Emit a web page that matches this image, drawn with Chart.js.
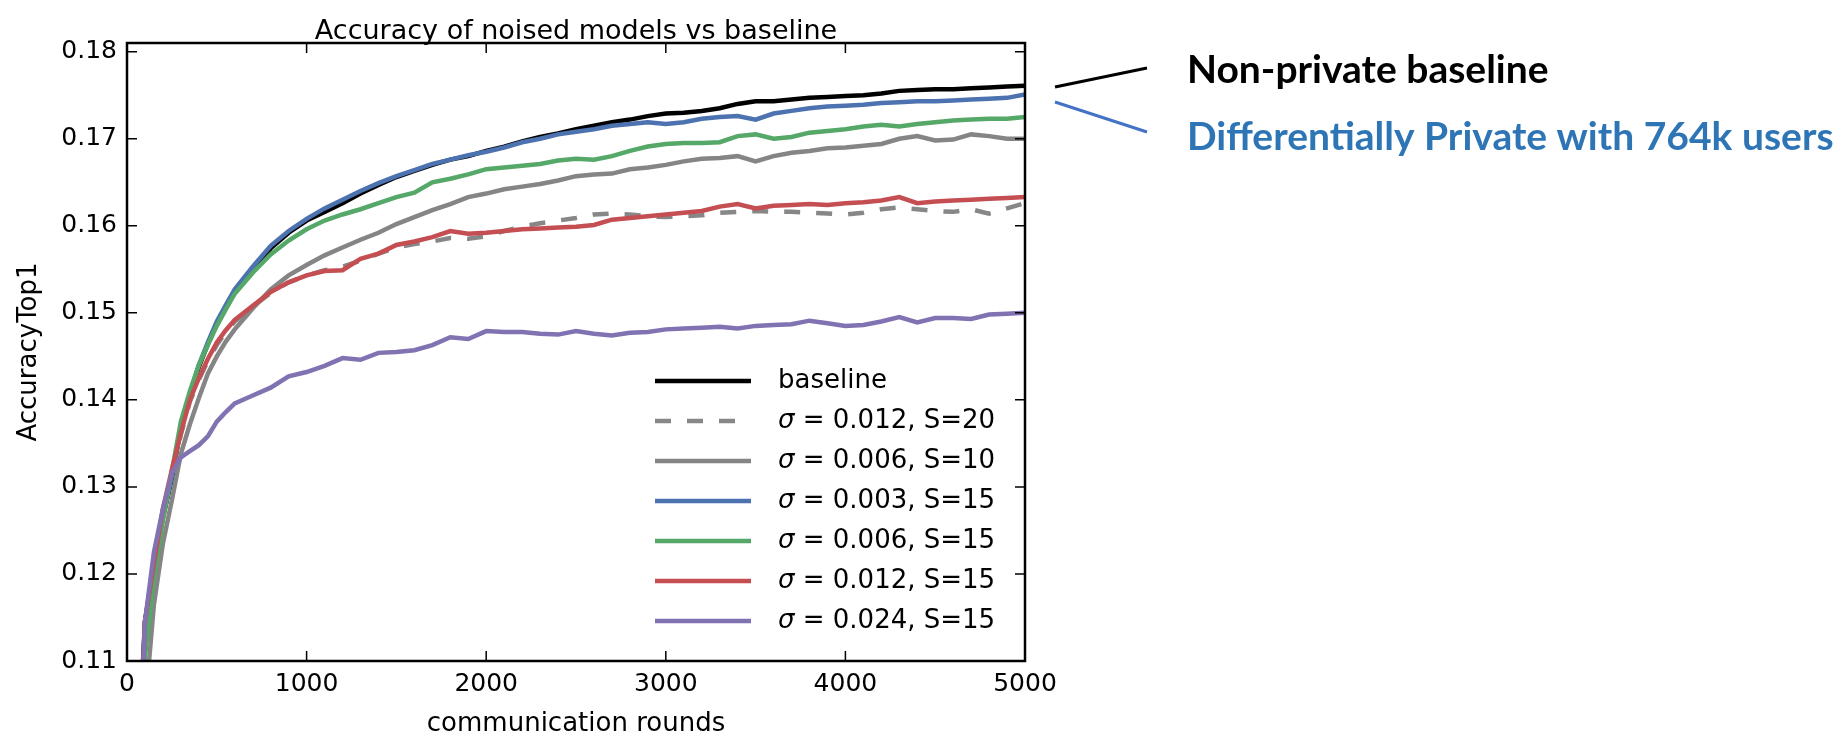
<!DOCTYPE html>
<html>
<head>
<meta charset="utf-8">
<script src="https://cdn.jsdelivr.net/npm/chart.js@4"></script>
<style>
  html, body { margin: 0; padding: 0; background: #fff; }
  #wrap { width: 1844px; height: 735px; }
</style>
</head>
<body>
<div id="wrap"><canvas id="chart" width="1844" height="735"></canvas></div>
<script>
const rounds = [75, 100, 150, 200, 250, 300, 350, 400, 450, 500, 550, 600,
  700, 800, 900, 1000, 1100, 1200, 1300, 1400, 1500, 1600, 1700, 1800, 1900, 2000,
  2100, 2200, 2300, 2400, 2500, 2600, 2700, 2800, 2900, 3000,
  3100, 3200, 3300, 3400, 3500, 3600, 3700, 3800, 3900, 4000,
  4100, 4200, 4300, 4400, 4500, 4600, 4700, 4800, 4900, 5000];

const baseline = [0.104, 0.1145, 0.121, 0.1265, 0.131, 0.1368, 0.1405, 0.1438, 0.1464, 0.1488, 0.1507, 0.1525,
  0.1551, 0.1574, 0.1592, 0.1606, 0.1616, 0.1626, 0.1637, 0.1647, 0.1656, 0.1663, 0.1670, 0.1676, 0.1680, 0.1686,
  0.1691, 0.1697, 0.1702, 0.1706, 0.1711, 0.1715, 0.1719, 0.1722, 0.1726, 0.1729,
  0.1730, 0.1732, 0.1735, 0.1740, 0.1743, 0.1743, 0.1745, 0.1747, 0.1748, 0.1749,
  0.1750, 0.1752, 0.1755, 0.1756, 0.1757, 0.1757, 0.1758, 0.1759, 0.1760, 0.1761];

const sigma012S20 = [0.099, 0.1135, 0.1205, 0.1270, 0.1315, 0.1360, 0.1398, 0.1423, 0.1445, 0.1463, 0.1478, 0.1490,
  0.1507, 0.1523, 0.1535, 0.1543, 0.1549, 0.1553, 0.1560, 0.1568, 0.1575, 0.1579, 0.1582, 0.1586, 0.1585, 0.1588,
  0.1594, 0.1599, 0.1603, 0.1606, 0.1609, 0.1613, 0.1614, 0.1613, 0.1611, 0.1610,
  0.1611, 0.1612, 0.1615, 0.1616, 0.1617, 0.1616, 0.1616, 0.1615, 0.1614, 0.1613,
  0.1615, 0.1619, 0.1621, 0.1619, 0.1617, 0.1616, 0.1619, 0.1614, 0.1620, 0.1626];

const sigma006S10 = [0.092, 0.1045, 0.1165, 0.1235, 0.1285, 0.1338, 0.1372, 0.1402, 0.1430, 0.1450, 0.1467, 0.1481,
  0.1505, 0.1527, 0.1543, 0.1555, 0.1566, 0.1575, 0.1584, 0.1592, 0.1602, 0.1610, 0.1618, 0.1625, 0.1633, 0.1637,
  0.1642, 0.1645, 0.1648, 0.1652, 0.1657, 0.1659, 0.1660, 0.1665, 0.1667, 0.1670,
  0.1674, 0.1677, 0.1678, 0.1680, 0.1674, 0.1680, 0.1684, 0.1686, 0.1689, 0.1690,
  0.1692, 0.1694, 0.1700, 0.1703, 0.1698, 0.1699, 0.1705, 0.1703, 0.1700, 0.1700];

const sigma003S15 = [0.103, 0.1145, 0.121, 0.1266, 0.1312, 0.1370, 0.1407, 0.1440, 0.1466, 0.1490, 0.1509, 0.1527,
  0.1553, 0.1577, 0.1594, 0.1608, 0.1620, 0.1630, 0.1640, 0.1649, 0.1657, 0.1664, 0.1671, 0.1676, 0.1681, 0.1685,
  0.1690, 0.1696, 0.1700, 0.1705, 0.1708, 0.1711, 0.1715, 0.1717, 0.1719, 0.1717,
  0.1719, 0.1723, 0.1725, 0.1726, 0.1722, 0.1729, 0.1732, 0.1735, 0.1737, 0.1738,
  0.1739, 0.1741, 0.1742, 0.1743, 0.1743, 0.1744, 0.1745, 0.1746, 0.1747, 0.1751];

const sigma006S15 = [0.098, 0.1105, 0.1195, 0.1262, 0.1318, 0.1375, 0.1410, 0.1440, 0.1463, 0.1485, 0.1504, 0.1522,
  0.1546, 0.1567, 0.1583, 0.1596, 0.1606, 0.1613, 0.1619, 0.1626, 0.1633, 0.1638, 0.1650, 0.1654, 0.1659, 0.1665,
  0.1667, 0.1669, 0.1671, 0.1675, 0.1677, 0.1676, 0.1680, 0.1686, 0.1691, 0.1694,
  0.1695, 0.1695, 0.1696, 0.1703, 0.1705, 0.1700, 0.1702, 0.1707, 0.1709, 0.1711,
  0.1714, 0.1716, 0.1714, 0.1717, 0.1719, 0.1721, 0.1722, 0.1723, 0.1723, 0.1725];

const sigma012S15 = [0.101, 0.1145, 0.1212, 0.1275, 0.1320, 0.1362, 0.1400, 0.1425, 0.1447, 0.1466, 0.1480, 0.1492,
  0.1508, 0.1524, 0.1535, 0.1543, 0.1548, 0.1549, 0.1562, 0.1568, 0.1578, 0.1582, 0.1587, 0.1594, 0.1591, 0.1592,
  0.1594, 0.1596, 0.1597, 0.1598, 0.1599, 0.1601, 0.1607, 0.1609, 0.1611, 0.1613,
  0.1615, 0.1617, 0.1622, 0.1625, 0.1620, 0.1623, 0.1624, 0.1625, 0.1624, 0.1626,
  0.1627, 0.1629, 0.1633, 0.1626, 0.1628, 0.1629, 0.1630, 0.1631, 0.1632, 0.1633];

const sigma024S15 = [0.099, 0.1145, 0.1225, 0.1275, 0.1316, 0.1334, 0.1341, 0.1348, 0.1358, 0.1375, 0.1386, 0.1396,
  0.1405, 0.1414, 0.1427, 0.1432, 0.1439, 0.1448, 0.1446, 0.1454, 0.1455, 0.1457, 0.1463, 0.1472, 0.1470, 0.1479,
  0.1478, 0.1478, 0.1476, 0.1475, 0.1479, 0.1476, 0.1474, 0.1477, 0.1478, 0.1481,
  0.1482, 0.1483, 0.1484, 0.1482, 0.1485, 0.1486, 0.1487, 0.1491, 0.1488, 0.1485,
  0.1486, 0.1490, 0.1495, 0.1489, 0.1494, 0.1494, 0.1493, 0.1498, 0.1499, 0.1500];

const seriesLabels = ['baseline', 'σ = 0.012, S=20', 'σ = 0.006, S=10', 'σ = 0.003, S=15',
  'σ = 0.006, S=15', 'σ = 0.012, S=15', 'σ = 0.024, S=15'];
const seriesColors = ['#000000', '#878787', '#858585', '#4C72B0', '#55A868', '#C44E52', '#8172B2'];
const seriesValues = [baseline, sigma012S20, sigma006S10, sigma003S15, sigma006S15, sigma012S15, sigma024S15];

const xTicks = [0, 1000, 2000, 3000, 4000, 5000];
const yTicks = [0.11, 0.12, 0.13, 0.14, 0.15, 0.16, 0.17, 0.18];

const calloutTexts = ['Non-private baseline', 'Differentially Private with 764k users'];

const FONT = 'DejaVu Sans';

// build the datasets; later series are drawn on top (as in the original plot)
const datasets = seriesValues.map((vals, i) => ({
  label: seriesLabels[i],
  data: vals.map((v, j) => ({ x: rounds[j], y: v })),
  borderColor: seriesColors[i],
  borderWidth: 4.5,
  borderDash: i === 1 ? [16, 16] : [],
  pointRadius: 0,
  tension: 0,
  clip: 0,
  order: seriesValues.length - i
}));

// box with inward ticks on all four sides
const frameTicks = {
  id: 'frameTicks',
  afterDatasetsDraw(chart) {
    const { ctx, chartArea: a, scales: { x, y } } = chart;
    ctx.save();
    ctx.strokeStyle = '#000';
    ctx.lineWidth = 1.5;
    ctx.beginPath();
    xTicks.forEach(v => {
      const px = x.getPixelForValue(v);
      ctx.moveTo(px, a.bottom); ctx.lineTo(px, a.bottom - 10);
      ctx.moveTo(px, a.top); ctx.lineTo(px, a.top + 10);
    });
    yTicks.forEach(v => {
      const py = y.getPixelForValue(v);
      ctx.moveTo(a.left, py); ctx.lineTo(a.left + 10, py);
      ctx.moveTo(a.right, py); ctx.lineTo(a.right - 10, py);
    });
    ctx.stroke();
    ctx.lineWidth = 2.5;
    ctx.strokeRect(a.left, a.top, a.right - a.left, a.bottom - a.top);
    ctx.restore();
  }
};

// legend inside the plot, lower right, no frame
const innerLegend = {
  id: 'innerLegend',
  afterDraw(chart) {
    const { ctx, chartArea: a } = chart;
    const x0 = a.right - 370, x1 = a.right - 274, tx = a.right - 247;
    ctx.save();
    ctx.textBaseline = 'middle';
    ctx.fillStyle = '#000';
    chart.data.datasets.forEach((ds, i) => {
      const yy = a.bottom - 280 + i * 40;
      ctx.strokeStyle = ds.borderColor;
      ctx.lineWidth = ds.borderWidth;
      ctx.setLineDash(ds.borderDash);
      ctx.beginPath();
      ctx.moveTo(x0, yy); ctx.lineTo(x1, yy);
      ctx.stroke();
      ctx.setLineDash([]);
      let label = ds.label, cx = tx;
      if (label.startsWith('σ')) {
        ctx.font = 'italic 26px "' + FONT + '"';
        ctx.fillText('σ', cx, yy);
        cx += ctx.measureText('σ').width;
        label = label.slice(1);
      }
      ctx.font = '26px "' + FONT + '"';
      ctx.fillText(label, cx, yy);
    });
    ctx.restore();
  }
};

// slide callout on the right
const callout = {
  id: 'callout',
  afterDraw(chart) {
    const { ctx, chartArea: a } = chart;
    ctx.save();
    ctx.lineWidth = 3;
    ctx.strokeStyle = '#000';
    ctx.beginPath();
    ctx.moveTo(a.right + 30, a.top + 44); ctx.lineTo(a.right + 122, a.top + 25);
    ctx.stroke();
    ctx.strokeStyle = '#4472C4';
    ctx.beginPath();
    ctx.moveTo(a.right + 30, a.top + 59); ctx.lineTo(a.right + 122, a.top + 89);
    ctx.stroke();

    ctx.font = 'bold 100px Lato';
    const size = Math.round(639 / ctx.measureText(calloutTexts[1]).width * 100);
    ctx.font = 'bold ' + size + 'px Lato';
    ctx.textBaseline = 'alphabetic';
    ctx.fillStyle = '#000';
    ctx.fillText(calloutTexts[0], a.right + 162, a.top + 40);
    ctx.fillStyle = '#2E75B6';
    ctx.fillText(calloutTexts[1], a.right + 162, a.top + 107);
    ctx.restore();
  }
};

new Chart(document.getElementById('chart'), {
  type: 'line',
  data: { datasets },
  options: {
    responsive: false,
    animation: false,
    devicePixelRatio: 1,
    layout: { padding: { left: 0, right: 819, top: 0, bottom: 0 } },
    plugins: {
      legend: { display: false },
      tooltip: { enabled: false },
      title: {
        display: true,
        text: 'Accuracy of noised models vs baseline',
        color: '#000',
        fullSize: false,
        font: { family: FONT, size: 27, weight: 'normal', lineHeight: 1 },
        padding: { top: 18, bottom: -2 }
      }
    },
    scales: {
      x: {
        type: 'linear',
        min: 0,
        max: 5000,
        afterBuildTicks: s => { s.ticks = xTicks.map(v => ({ value: v })); },
        afterFit: s => { s.height = 74; },
        grid: { display: false, drawTicks: false },
        border: { display: false },
        ticks: {
          color: '#000', padding: 8, maxRotation: 0, autoSkip: false,
          font: { family: FONT, size: 25 },
          callback: v => String(v)
        },
        title: {
          display: true, text: 'communication rounds', color: '#000',
          font: { family: FONT, size: 26, lineHeight: 0.85 },
          padding: { top: 0, bottom: 0 }
        }
      },
      y: {
        type: 'linear',
        min: 0.11,
        max: 0.181,
        afterBuildTicks: s => { s.ticks = yTicks.map(v => ({ value: v })); },
        afterFit: s => { s.width = 127; },
        grid: { display: false, drawTicks: false },
        border: { display: false },
        ticks: {
          color: '#000', padding: 10, autoSkip: false,
          font: { family: FONT, size: 25 },
          callback: v => v.toFixed(2)
        },
        title: {
          display: true, text: 'AccuracyTop1', color: '#000',
          font: { family: FONT, size: 26 },
          padding: { top: 14, bottom: 0 }
        }
      }
    }
  },
  plugins: [frameTicks, innerLegend, callout]
});
</script>
</body>
</html>
